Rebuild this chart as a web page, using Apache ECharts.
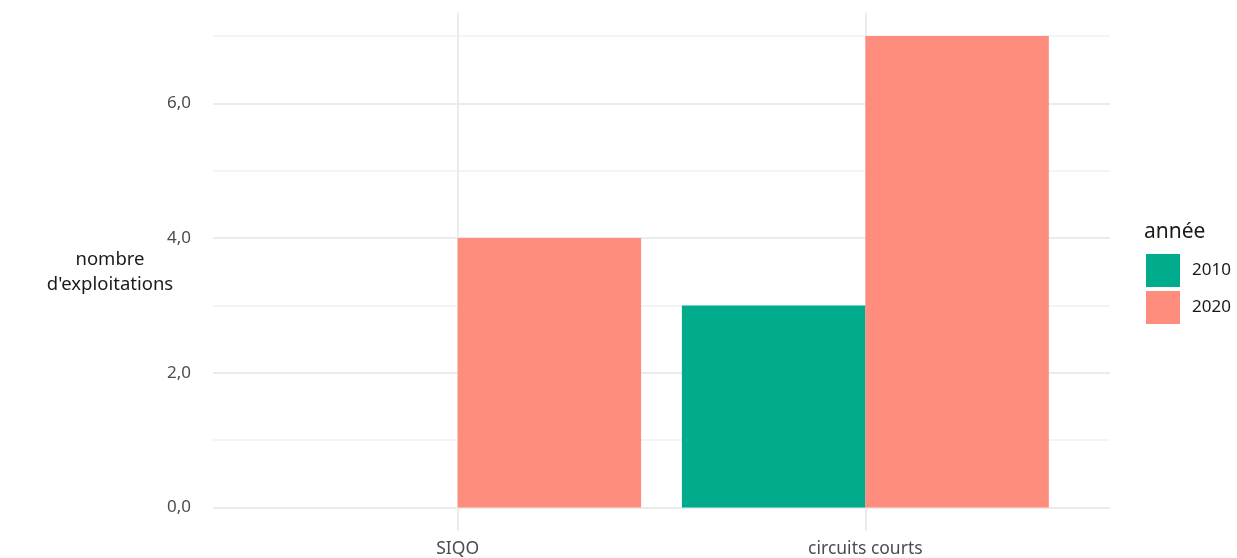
<!DOCTYPE html>
<html>
<head>
<meta charset="utf-8">
<script src="https://cdn.jsdelivr.net/npm/echarts@6/dist/echarts.min.js"></script>
<style>html,body{margin:0;padding:0;background:#fff}#c{width:1237px;height:558px}</style>
</head>
<body>
<div id="c"></div>
<script>
const categories = ["SIQO", "circuits courts"];
const years = ["2010", "2020"];
const values2010 = [0, 3];
const values2020 = [4, 7];
const yTicks = [0, 2, 4, 6];
const yMinor = [1, 3, 5, 7];
const colors = ["#00AC8C", "#FF8D7E"];

const FONT = "Noto Sans";
const xPos = categories.map((c, i) => i + 1);

function barSeries(name, vals, color, side) {
  return {
    type: 'custom',
    name: name,
    xAxisIndex: 0,
    yAxisIndex: 0,
    itemStyle: { color: color },
    data: vals.map((v, i) => [xPos[i], v]),
    renderItem: function (params, api) {
      const x = api.value(0), y = api.value(1);
      const x0 = side < 0 ? x - 0.45 : x;
      const x1 = side < 0 ? x : x + 0.45;
      const p0 = api.coord([x0, 0]);
      const p1 = api.coord([x1, y]);
      return {
        type: 'rect',
        shape: { x: p0[0], y: p1[1], width: p1[0] - p0[0], height: p0[1] - p1[1] },
        style: { fill: color }
      };
    }
  };
}

const chart = echarts.init(document.getElementById('c'));
chart.setOption({
  animation: false,
  textStyle: { fontFamily: FONT },
  grid: { left: 213, right: 127, top: 12.4, bottom: 25.4 },
  xAxis: [{
    type: 'value', min: 0.4, max: 2.6,
    axisLine: { show: false },
    axisTick: { show: false, customValues: xPos },
    axisLabel: { customValues: xPos, formatter: v => categories[Math.round(v) - 1] || '', color: '#4D4D4D', fontSize: 17.5, margin: 9, fontFamily: FONT },
    splitLine: { show: true, lineStyle: { color: '#EBEBEB', width: 2 } }
  }],
  yAxis: [{
    type: 'value', min: -0.35, max: 7.35,
    axisLine: { show: false },
    axisTick: { show: false, customValues: yTicks },
    axisLabel: { customValues: yTicks, formatter: v => v.toFixed(1).replace('.', ','), color: '#4D4D4D', fontSize: 17, margin: 22, fontFamily: FONT },
    splitLine: { show: true, lineStyle: { color: '#EBEBEB', width: 2 } }
  }, {
    type: 'value', min: -0.35, max: 7.35, position: 'left',
    axisLine: { show: false },
    axisTick: { show: false, customValues: yMinor },
    axisLabel: { show: false, customValues: yMinor },
    splitLine: { show: true, lineStyle: { color: '#F0F0F0', width: 1.5 } }
  }],
  legend: {
    orient: 'vertical', left: 1141, top: 249,
    itemWidth: 34, itemHeight: 33, itemGap: 4,
    icon: 'rect',
    data: years,
    textStyle: { fontSize: 17, color: '#1a1a1a', padding: [0, 0, 0, 7], fontFamily: FONT }
  },
  graphic: [
    { type: 'text', left: 1144, top: 222, style: { text: 'année', fontSize: 21, fill: '#1a1a1a', fontFamily: FONT } },
    { type: 'text', x: 110, y: 272, style: { text: "nombre\nd'exploitations", fontSize: 18.5, lineHeight: 25, fill: '#1a1a1a', align: 'center', verticalAlign: 'middle', fontFamily: FONT } }
  ],
  series: [
    barSeries(years[0], values2010, colors[0], -1),
    barSeries(years[1], values2020, colors[1], 1)
  ]
});
</script>
</body>
</html>
